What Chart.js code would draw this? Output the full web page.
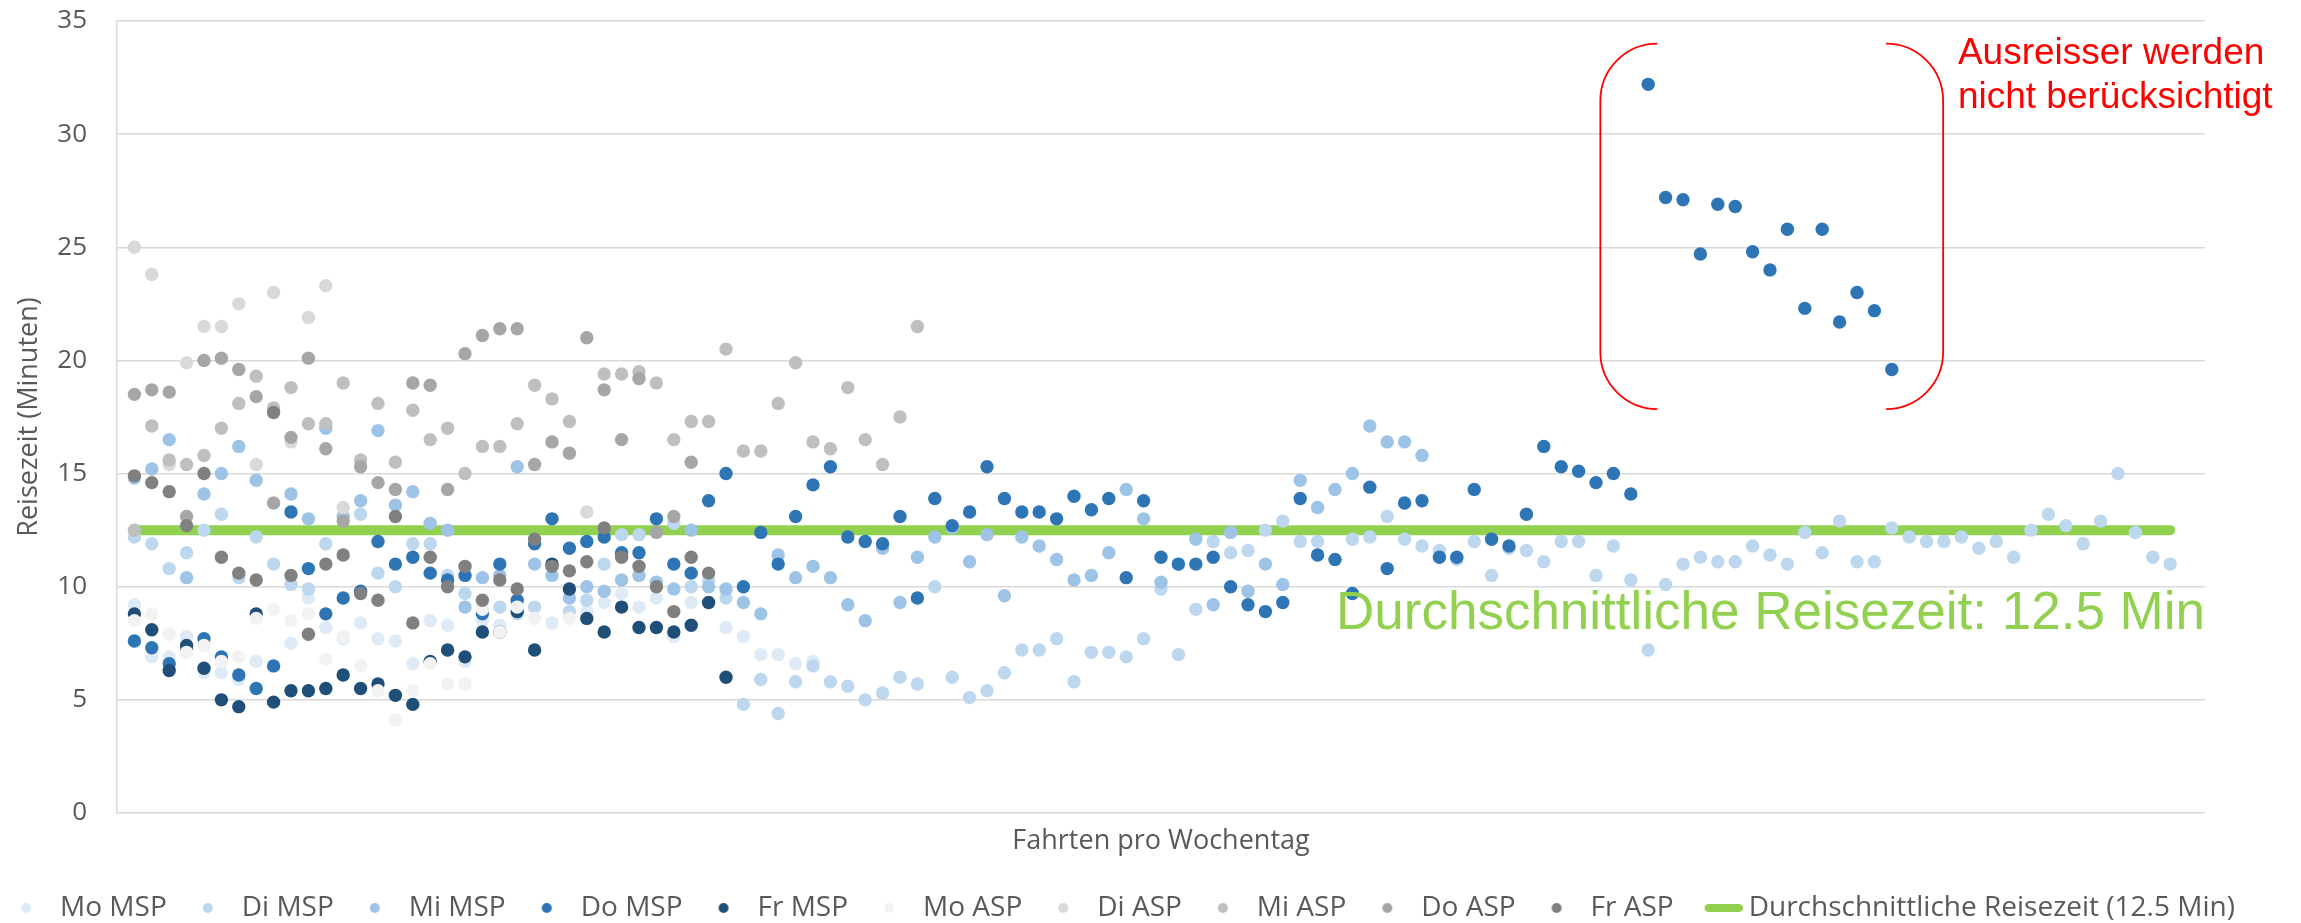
<!DOCTYPE html>
<html>
<head>
<meta charset="utf-8">
<script src="https://cdn.jsdelivr.net/npm/chart.js@4.4.1/dist/chart.umd.min.js"></script>
<style>
  html, body { margin: 0; padding: 0; background: #fff; }
  #wrap { width: 2301px; height: 923px; }
</style>
</head>
<body>
<div id="wrap"><canvas id="chart" width="2301" height="923"></canvas></div>
<script>
// ============================================================
// Reisezeit pro Fahrt – Streudiagramm (MSP / ASP je Wochentag)
// ============================================================

// --- series (y values, trip index = position + 1) ---
const moMSP = [9.2, 6.9, 6.9, 7.8, 6.2, 6.2, 5.9, 6.7, null, 7.5,
  9.5, 8.2, 7.7, 8.4, 7.7, 7.6, 6.6, 8.5, 8.3, 6.7,
  8.5, 8.3, null, null, 8.4, null, 8.9, 9.3, 9.7, 9.1,
  9.5, 7.8, 9.3, null, 8.2, 7.8, 7.0, 7.0, 6.6, 6.7];

const diMSP = [12.2, 11.9, 10.8, 11.5, 12.5, 13.2, 10.4, 12.2, 11.0, 10.1,
  9.9, 11.9, null, 13.2, 10.6, 10.0, 11.9, 11.9, 10.5, 9.7,
  null, 9.1, 8.8, 9.1, null, 8.9, 9.4, 11.0, 12.3, 12.3,
  null, 12.8, 10.0, 10.3, 9.5, 4.8, 5.9, 4.4, 5.8, 6.5,
  5.8, 5.6, 5.0, 5.3, 6.0, 5.7, 10.0, 6.0, 5.1, 5.4,
  6.2, 7.2, 7.2, 7.7, 5.8, 7.1, 7.1, 6.9, 7.7, 9.9,
  7.0, 9.0, 12.0, 11.5, 11.6, 12.5, 12.9, 12.0, 12.0, null,
  12.1, 12.2, 13.1, 12.1, 11.8, 11.6, 11.2, 12.0, 10.5, 11.7,
  11.6, 11.1, 12.0, 12.0, 10.5, 11.8, 10.3, 7.2, 10.1, 11.0,
  11.3, 11.1, 11.1, 11.8, 11.4, 11.0, 12.4, 11.5, 12.9, 11.1,
  11.1, 12.6, 12.2, 12.0, 12.0, 12.2, 11.7, 12.0, 11.3, 12.5,
  13.2, 12.7, 11.9, 12.9, 15.0, 12.4, 11.3, 11.0];

const miMSP = [14.8, 15.2, 16.5, 10.4, 14.1, 15.0, 16.2, 14.7, null, 14.1,
  13.0, 17.0, 13.1, 13.8, 16.9, 13.6, 14.2, 12.8, 12.5, 9.1,
  10.4, 10.5, 15.3, 11.0, 10.5, 9.5, 10.0, 9.8, 10.3, 10.5,
  10.2, 9.9, 12.5, 10.0, 9.9, 9.3, 8.8, 11.4, 10.4, 10.9,
  10.4, 9.2, 8.5, 11.7, 9.3, 11.3, 12.2, 12.6, 11.1, 12.3,
  9.6, 12.2, 11.8, 11.2, 10.3, 10.5, 11.5, 14.3, 13.0, 10.2,
  11.0, 12.1, 9.2, 12.4, 9.8, 11.0, 10.1, 14.7, 13.5, 14.3,
  15.0, 17.1, 16.4, 16.4, 15.8];

const doMSP = [7.6, 7.3, 6.6, 7.2, 7.7, 6.9, 6.1, 5.5, 6.5, 13.3,
  10.8, 8.8, 9.5, 9.8, 12.0, 11.0, 11.3, 10.6, 10.3, 10.5,
  8.8, 11.0, 9.4, 11.9, 13.0, 11.7, 12.0, 12.2, 11.5, 11.5,
  13.0, 11.0, 10.6, 13.8, 15.0, 10.0, 12.4, 11.0, 13.1, 14.5,
  15.3, 12.2, 12.0, 11.9, 13.1, 9.5, 13.9, 12.7, 13.3, 15.3,
  13.9, 13.3, 13.3, 13.0, 14.0, 13.4, 13.9, 10.4, 13.8, 11.3,
  11.0, 11.0, 11.3, 10.0, 9.2, 8.9, 9.3, 13.9, 11.4, 11.2,
  9.7, 14.4, 10.8, 13.7, 13.8, 11.3, 11.3, 14.3, 12.1, 11.8,
  13.2, 16.2, 15.3, 15.1, 14.6, 15.0, 14.1, 32.2, 27.2, 27.1,
  24.7, 26.9, 26.8, 24.8, 24.0, 25.8, 22.3, 25.8, 21.7, 23.0,
  22.2, 19.6];

const frMSP = [8.8, 8.1, 6.3, 7.4, 6.4, 5.0, 4.7, 8.8, 4.9, 5.4,
  5.4, 5.5, 6.1, 5.5, 5.7, 5.2, 4.8, 6.7, 7.2, 6.9,
  8.0, 8.0, 8.9, 7.2, 11.0, 9.9, 8.6, 8.0, 9.1, 8.2,
  8.2, 8.0, 8.3, 9.3, 6.0];

const moASP = [8.5, 8.8, 7.9, 7.1, 7.4, 6.7, 6.9, 8.6, 9.0, 8.5,
  8.8, 6.8, 7.8, 6.5, 5.4, 4.1, 5.4, 6.6, 5.7, 5.7,
  9.0, 8.0, 9.1, 8.6, null, 8.6];

const diASP = [25.0, 23.8, 15.4, 19.9, 21.5, 21.5, 22.5, 15.4, 23.0, 16.4,
  21.9, 23.3, 13.5, null, null, null, null, null, null, null,
  null, null, null, null, null, null, 13.3];

const miASP = [12.5, 17.1, 15.6, 15.4, 15.8, 17.0, 18.1, 19.3, 17.9, 18.8,
  17.2, 17.2, 19.0, 15.6, 18.1, 15.5, 17.8, 16.5, 17.0, 15.0,
  16.2, 16.2, 17.2, 18.9, 18.3, 17.3, null, 19.4, 19.4, 19.5,
  19.0, 16.5, 17.3, 17.3, 20.5, 16.0, 16.0, 18.1, 19.9, 16.4,
  16.1, 18.8, 16.5, 15.4, 17.5, 21.5];

const doASP = [18.5, 18.7, 18.6, 13.1, 20.0, 20.1, 19.6, 18.4, 13.7, 16.6,
  20.1, 16.1, 12.9, 15.3, 14.6, 14.3, 19.0, 18.9, 14.3, 20.3,
  21.1, 21.4, 21.4, 15.4, 16.4, 15.9, 21.0, 18.7, 16.5, 19.2,
  12.4, 13.1, 15.5];

const frASP = [14.9, 14.6, 14.2, 12.7, 15.0, 11.3, 10.6, 10.3, 17.7, 10.5,
  7.9, 11.0, 11.4, 9.7, 9.4, 13.1, 8.4, 11.3, 10.0, 10.9,
  9.4, 10.3, 9.9, 12.1, 10.9, 10.7, 11.1, 12.6, 11.3, 10.9,
  10.0, 8.9, 11.3, 10.6];

const seriesNames  = ['Mo MSP', 'Di MSP', 'Mi MSP', 'Do MSP', 'Fr MSP',
                      'Mo ASP', 'Di ASP', 'Mi ASP', 'Do ASP', 'Fr ASP'];
const seriesValues = [moMSP, diMSP, miMSP, doMSP, frMSP, moASP, diASP, miASP, doASP, frASP];
const seriesColors = ['#DEEBF7', '#BDD7EE', '#9DC3E6', '#2E75B6', '#1F4E79',
                      '#F2F2F2', '#D9D9D9', '#BFBFBF', '#A6A6A6', '#808080'];

// average line
const avgValue  = 12.5;
const avgRange  = [1, 118];
const avgLegend = 'Durchschnittliche Reisezeit (12.5 Min)';
const avgNote   = 'Durchschnittliche Reisezeit: 12.5 Min';
const avgColor  = '#92D050';

// outlier note (data coordinates)
const outlierNote = ['Ausreisser werden', 'nicht berücksichtigt'];
const bracketX = [85.25, 104.95];
const bracketY = [34.0, 17.85];

// axes
const xRange = [0, 120];
const yRange = [0, 35];
const yStep  = 5;

const TEXT = '#595959';
const GRID = '#D9D9D9';

function toPoints(values) {
  return values.map((v, i) => ({ x: i + 1, y: v })).filter(p => p.y !== null);
}

function dotIcon(color) {
  const c = document.createElement('canvas');
  c.width = 12; c.height = 12;
  const g = c.getContext('2d');
  g.fillStyle = color;
  g.beginPath(); g.arc(6, 6, 5, 0, Math.PI * 2); g.fill();
  return c;
}

function barIcon(color) {
  const c = document.createElement('canvas');
  c.width = 56; c.height = 12;
  const g = c.getContext('2d');
  g.strokeStyle = color; g.lineWidth = 8; g.lineCap = 'round';
  g.beginPath(); g.moveTo(22, 6); g.lineTo(52, 6); g.stroke();
  return c;
}

const datasets = seriesNames.map((name, k) => ({
  label: name,
  data: toPoints(seriesValues[k]),
  backgroundColor: seriesColors[k],
  borderColor: seriesColors[k],
  borderWidth: 0,
  pointRadius: 6.7,
  order: 10 - k
}));

datasets.push({
  label: avgLegend,
  data: avgRange.map(x => ({ x, y: avgValue })),
  showLine: true,
  borderColor: avgColor,
  backgroundColor: avgColor,
  borderWidth: 10,
  borderCapStyle: 'round',
  pointRadius: 0,
  order: 100
});

const legendIcons = seriesColors.map(dotIcon).concat([barIcon(avgColor)]);

// --- annotations: green label, red bracket + note ---
const notesPlugin = {
  id: 'notes',
  afterDatasetsDraw(chart) {
    const { ctx, chartArea, scales: { x, y } } = chart;
    ctx.save();

    ctx.font = '53px "Liberation Sans", Arial, sans-serif';
    ctx.fillStyle = avgColor;
    ctx.textAlign = 'right';
    ctx.textBaseline = 'alphabetic';
    ctx.fillText(avgNote, chartArea.right, y.getPixelForValue(8.13));

    const L = x.getPixelForValue(bracketX[0]);
    const R = x.getPixelForValue(bracketX[1]);
    const T = y.getPixelForValue(bracketY[0]);
    const B = y.getPixelForValue(bracketY[1]);
    const r = 57;
    ctx.strokeStyle = '#FF0000';
    ctx.lineWidth = 1.8;
    ctx.beginPath();
    ctx.moveTo(L + r, T);
    ctx.arcTo(L, T, L, T + r, r);
    ctx.lineTo(L, B - r);
    ctx.arcTo(L, B, L + r, B, r);
    ctx.moveTo(R - r, T);
    ctx.arcTo(R, T, R, T + r, r);
    ctx.lineTo(R, B - r);
    ctx.arcTo(R, B, R - r, B, r);
    ctx.stroke();

    ctx.font = '37px "Liberation Sans", Arial, sans-serif';
    ctx.fillStyle = '#FF0000';
    ctx.textAlign = 'left';
    const tx = x.getPixelForValue(105.8);
    ctx.fillText(outlierNote[0], tx, y.getPixelForValue(33.1));
    ctx.fillText(outlierNote[1], tx, y.getPixelForValue(31.15));
    ctx.restore();
  }
};

new Chart(document.getElementById('chart'), {
  type: 'scatter',
  data: { datasets },
  options: {
    responsive: false,
    animation: false,
    events: [],
    layout: { padding: { top: 21, right: 20, bottom: -9, left: -40 } },
    plugins: {
      tooltip: { enabled: false },
      legend: {
        position: 'bottom',
        labels: {
          usePointStyle: true,
          pointStyleWidth: 40,
          padding: 21,
          color: TEXT,
          font: { family: 'Open Sans', size: 28 },
          generateLabels: chart => chart.data.datasets.map((ds, i) => ({
            text: ds.label,
            fillStyle: ds.backgroundColor,
            strokeStyle: ds.borderColor,
            lineWidth: 0,
            pointStyle: legendIcons[i],
            fontColor: TEXT,
            hidden: false,
            datasetIndex: i
          }))
        }
      }
    },
    scales: {
      x: {
        type: 'linear',
        min: xRange[0], max: xRange[1],
        grid: { display: false },
        border: { display: false },
        ticks: { display: false },
        title: {
          display: true, text: 'Fahrten pro Wochentag', color: TEXT,
          font: { family: 'Open Sans', size: 27 }, padding: { top: 15, bottom: 15 }
        },
        afterFit: s => { s.height = 60; }
      },
      y: {
        min: yRange[0], max: yRange[1],
        ticks: { stepSize: yStep, color: TEXT, padding: 30, font: { family: 'Open Sans', size: 26 } },
        grid: { color: GRID, lineWidth: 1.5, drawTicks: false },
        border: { display: true, color: GRID, width: 1.5 },
        title: {
          display: true, text: 'Reisezeit (Minuten)', color: TEXT,
          font: { family: 'Open Sans', size: 27 }, padding: { top: 53, bottom: 0 }
        },
        afterFit: s => { s.width = 157; s.paddingTop = 12; s.paddingBottom = 12; }
      },
      yRight: {
        type: 'linear', position: 'right',
        grid: { display: false }, border: { display: false }, ticks: { display: false },
        afterFit: s => { s.width = 76; }
      }
    }
  },
  plugins: [notesPlugin]
});
</script>
</body>
</html>
